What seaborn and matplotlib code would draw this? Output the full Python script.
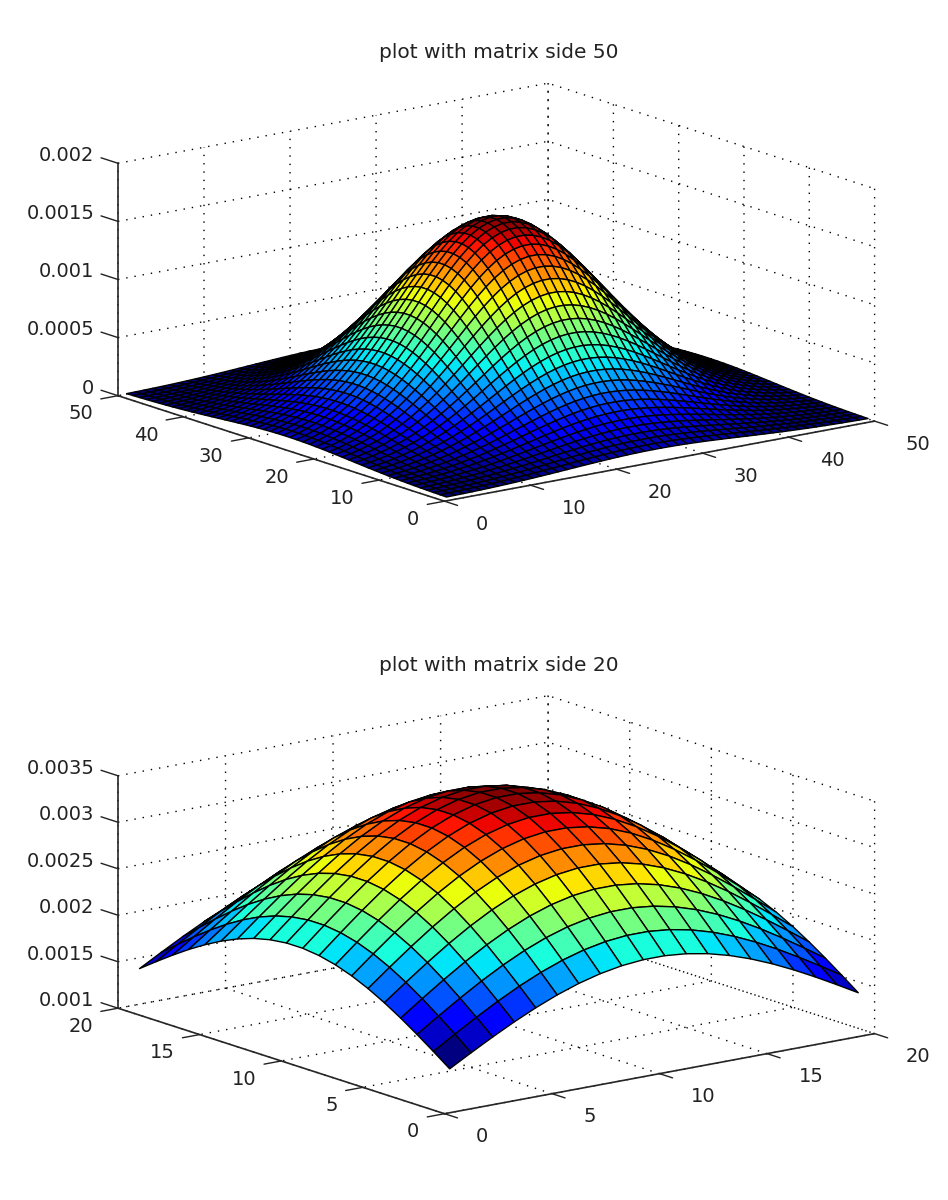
"""Two surface plots of a smoothing matrix, side 50 and side 20."""

import matplotlib
matplotlib.use("Agg")
import matplotlib.pyplot as plt
import numpy as np
import seaborn as sns
from matplotlib.colors import Normalize

# cross-section through the peak (peak = 1)
half_profile_50 = [0.0497, 0.0632, 0.0796, 0.0991, 0.1223, 0.1494, 0.1806, 0.2163, 0.2563, 0.3008,
                   0.3495, 0.4020, 0.4578, 0.5162, 0.5762, 0.6368, 0.6968, 0.7548, 0.8096, 0.8596,
                   0.9037, 0.9406, 0.9692, 0.9888, 0.9988]
half_profile_20 = [0.6368, 0.6968, 0.7548, 0.8096, 0.8596, 0.9037, 0.9406, 0.9692, 0.9888, 0.9988]
peak_50 = 0.00163
peak_20 = 0.00341

side_50_ticks = [0, 10, 20, 30, 40, 50]
side_20_ticks = [0, 5, 10, 15, 20]
z_ticks_50 = [0, 0.0005, 0.001, 0.0015, 0.002]
z_labels_50 = ["0", "0.0005", "0.001", "0.0015", "0.002"]
z_ticks_20 = [0.001, 0.0015, 0.002, 0.0025, 0.003, 0.0035]
z_labels_20 = ["0.001", "0.0015", "0.002", "0.0025", "0.003", "0.0035"]

FIG_W, FIG_H = 948, 1200
AX_PX = 777
CENTER_X = 485.8
TEXT_COLOR = "#222222"


def draw_surface(fig, center_y, side, half_profile, peak, ticks, z_ticks, z_labels, title):
    rect = [(CENTER_X - AX_PX / 2) / FIG_W, (FIG_H - center_y - AX_PX / 2) / FIG_H, AX_PX / FIG_W, AX_PX / FIG_H]
    ax = fig.add_axes(rect, projection="3d", proj_type="ortho")
    ax.patch.set_alpha(0)
    ax.set_box_aspect((1, 1, 0.444))
    ax.view_init(elev=14.2, azim=-127.2)

    profile = np.array(half_profile + half_profile[::-1])
    pos = np.arange(1, side + 1)
    X, Y = np.meshgrid(pos, pos)
    Z = peak * np.outer(profile, profile)
    # each cell takes the colour of its first corner
    cmap = plt.get_cmap("jet", 64)
    colors = cmap(Normalize(Z.min(), Z.max())(Z))
    ax.plot_surface(X, Y, Z, rstride=1, cstride=1, facecolors=colors,
                    shade=False, edgecolor="black", linewidth=1.0)

    ax.set_xlim(0, side)
    ax.set_ylim(0, side)
    ax.set_zlim(z_ticks[0], z_ticks[-1])
    ax.set_xticks(ticks)
    ax.set_yticks(ticks)
    ax.set_zticks(z_ticks)
    tick_text = [str(t) for t in ticks]
    ax.set_xticklabels(tick_text, ha="left", va="bottom")
    ax.set_yticklabels(tick_text, ha="right", va="center")
    ax.set_zticklabels(z_labels, ha="right", va="center")
    ax.tick_params(labelsize=14, colors=TEXT_COLOR)
    ax.tick_params(axis="x", pad=20)
    ax.tick_params(axis="y", pad=9)
    ax.tick_params(axis="z", pad=13)

    for axis in (ax.xaxis, ax.yaxis, ax.zaxis):
        axis.set_pane_color((1, 1, 1, 0))
        axis.pane.set_edgecolor((1, 1, 1, 0))
        axis._axinfo["grid"].update(color="black", linestyle=(0, (1, 5)), linewidth=1.0)
        axis._axinfo["tick"].update(inward_factor=0.5, outward_factor=0.0, linewidth={True: 1.0, False: 1.0})
        axis._axinfo["axisline"]["color"] = (0.1, 0.1, 0.1, 1)
        axis.line.set_linewidth(1.2)

    # z ticks and their labels run along the y direction, as in the original
    ax.zaxis._axinfo["tick"].update(inward_factor=0.0, outward_factor=0.65)
    ax.zaxis._get_tickdir = lambda position: 1
    ax.zaxis._axmask = lambda: [False, True, False]

    ax.text2D(0.5 + (499 - CENTER_X) / AX_PX, 0.5 + (center_y - title[1]) / AX_PX, title[0],
              transform=ax.transAxes, ha="center", va="center", fontsize=14.5, color=TEXT_COLOR)
    return ax


sns.set_style("white", {"xtick.bottom": True, "ytick.left": True})
fig = plt.figure(figsize=(FIG_W / 100, FIG_H / 100), dpi=100)
draw_surface(fig, 302.7, 50, half_profile_50, peak_50, side_50_ticks, z_ticks_50, z_labels_50,
             ("plot with matrix side 50", 53))
draw_surface(fig, 915.2, 20, half_profile_20, peak_20, side_20_ticks, z_ticks_20, z_labels_20,
             ("plot with matrix side 20", 665))
fig.savefig("out.png", dpi=100)
plt.close(fig)
